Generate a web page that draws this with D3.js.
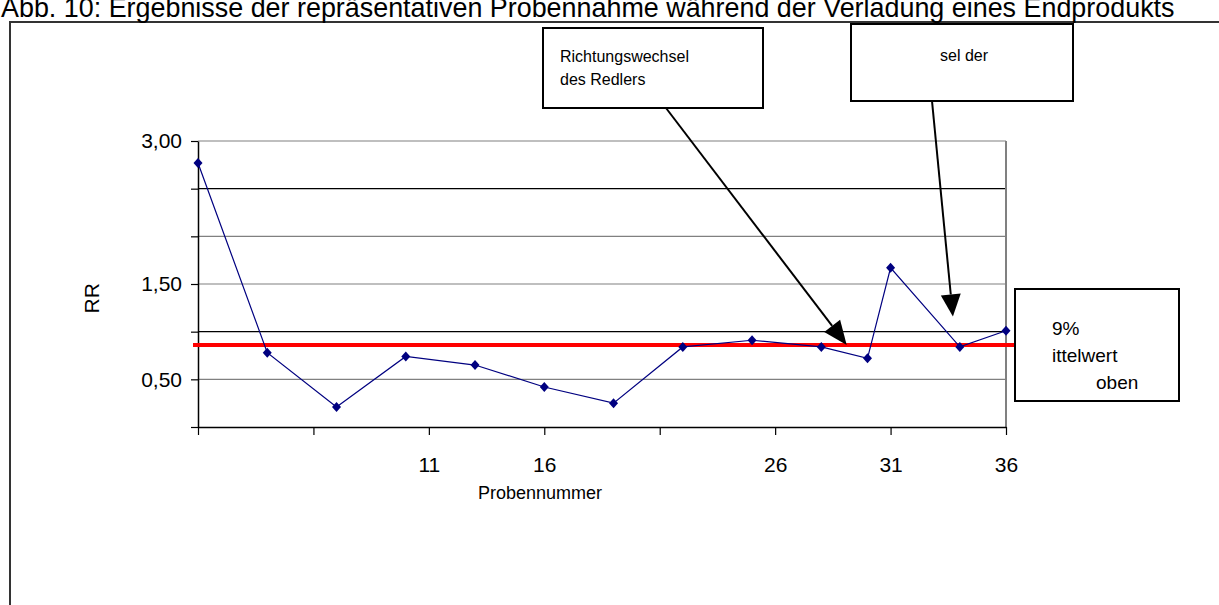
<!DOCTYPE html>
<html>
<head>
<meta charset="utf-8">
<script src="https://cdn.jsdelivr.net/npm/d3@7"></script>
<style>
  html, body { margin: 0; padding: 0; background: #fff; }
  svg { display: block; font-family: "Liberation Sans", Arial, sans-serif; }
</style>
</head>
<body>
<svg id="chart" width="1219" height="605"></svg>
<script>
// ---- data ----
const titleText = "Abb. 10: Ergebnisse der repräsentativen Probennahme während der Verladung eines Endprodukts";
const sampleNumbers = [1, 4, 7, 10, 13, 16, 19, 22, 25, 28, 30, 31, 34, 36];
const rrValues = [2.77, 0.78, 0.21, 0.74, 0.65, 0.42, 0.25, 0.84, 0.91, 0.84, 0.72, 1.67, 0.84, 1.01];
const xTickValues = [1, 6, 11, 16, 21, 26, 31, 36];
const xTickLabels = ["", "", "11", "16", "", "26", "31", "36"];
const yTickValues = [0, 0.5, 1, 1.5, 2, 2.5, 3];
const yTickLabels = ["", "0,50", "", "1,50", "", "", "3,00"];
const meanValue = 0.86;
const xAxisTitle = "Probennummer";
const yAxisTitle = "RR";
const note1Lines = ["Richtungswechsel", "des Redlers"];
const note1Target = [29.1, 0.86];
const note2Lines = ["sel der"];
const note2Target = [33.7, 1.16];
const meanBoxLines = ["9%", "ittelwert", "oben"];

// ---- layout ----
const svg = d3.select("#chart");
const plot = { left: 198, right: 1006, top: 141, bottom: 427 };

const x = d3.scaleLinear().domain([1, 36]).range([plot.left, plot.right]);
const y = d3.scaleLinear().domain([0, 3]).range([plot.bottom, plot.top]);

// outer frame
svg.append("rect").attr("x", 10).attr("y", 22).attr("width", 1230).attr("height", 620)
  .attr("fill", "none").attr("stroke", "#333").attr("stroke-width", 2);

// title (partially cut at the top)
svg.append("text").attr("x", 1).attr("y", 17)
  .attr("font-size", 26.9).attr("fill", "#000").text(titleText);

// gridlines
const gridColor = v => (v === 2.5 || v === 1) ? "#000" : "#808080";
svg.append("g").selectAll("line").data(yTickValues.filter(v => v > 0)).join("line")
  .attr("x1", plot.left).attr("x2", plot.right)
  .attr("y1", d => y(d)).attr("y2", d => y(d))
  .attr("stroke", d => gridColor(d)).attr("stroke-width", 1.2);

// right border of plot area
svg.append("line").attr("x1", plot.right).attr("x2", plot.right)
  .attr("y1", plot.top).attr("y2", plot.bottom)
  .attr("stroke", "#808080").attr("stroke-width", 2);

// y axis
const yAxis = d3.axisLeft(y).tickValues(yTickValues)
  .tickFormat((d, i) => yTickLabels[i]).tickSize(7).tickPadding(9).tickSizeOuter(0);
const gy = svg.append("g").attr("transform", `translate(${plot.left},0)`).call(yAxis);
gy.select(".domain").attr("stroke", "#000").attr("stroke-width", 1.5);
gy.selectAll(".tick line").attr("stroke", "#000").attr("stroke-width", 1.2);
gy.selectAll(".tick text").attr("font-size", 21).attr("fill", "#000")
  .attr("font-family", "'Liberation Sans', Arial, sans-serif");

// x axis
const xAxis = d3.axisBottom(x).tickValues(xTickValues)
  .tickFormat((d, i) => xTickLabels[i]).tickSize(8).tickPadding(22).tickSizeOuter(0);
const gx = svg.append("g").attr("transform", `translate(0,${plot.bottom})`).call(xAxis);
gx.select(".domain").attr("stroke", "#000").attr("stroke-width", 1.5);
gx.selectAll(".tick line").attr("stroke", "#000").attr("stroke-width", 1.2);
gx.selectAll(".tick text").attr("font-size", 21).attr("fill", "#000")
  .attr("font-family", "'Liberation Sans', Arial, sans-serif");

// axis titles
svg.append("text").attr("x", 540).attr("y", 499).attr("text-anchor", "middle")
  .attr("font-size", 18).text(xAxisTitle);
svg.append("text").attr("transform", `translate(99,${y(1.35)}) rotate(-90)`)
  .attr("text-anchor", "middle").attr("font-size", 21).text(yAxisTitle);

// mean (red) line
svg.append("line").attr("x1", x(1) - 5).attr("x2", 1015)
  .attr("y1", y(meanValue)).attr("y2", y(meanValue))
  .attr("stroke", "#ff0000").attr("stroke-width", 4);

// series line
const pts = sampleNumbers.map((s, i) => [s, rrValues[i]]);
svg.append("path").datum(pts)
  .attr("d", d3.line().x(d => x(d[0])).y(d => y(d[1])))
  .attr("fill", "none").attr("stroke", "#000080").attr("stroke-width", 1.2);

// diamond markers
svg.append("g").selectAll("path").data(pts).join("path")
  .attr("transform", d => `translate(${x(d[0])},${y(d[1])})`)
  .attr("d", "M0,-5L4.5,0L0,5L-4.5,0Z")
  .attr("fill", "#000080");

// annotation boxes
function box(x0, y0, w, h) {
  svg.append("rect").attr("x", x0).attr("y", y0).attr("width", w).attr("height", h)
    .attr("fill", "#fff").attr("stroke", "#000").attr("stroke-width", 2);
}
function arrow(x1, y1, x2, y2, headLen, headW) {
  const a = Math.atan2(y2 - y1, x2 - x1);
  const bx = x2 - headLen * Math.cos(a), by = y2 - headLen * Math.sin(a);
  svg.append("line").attr("x1", x1).attr("y1", y1).attr("x2", bx).attr("y2", by)
    .attr("stroke", "#000").attr("stroke-width", 2);
  const px = -Math.sin(a) * headW / 2, py = Math.cos(a) * headW / 2;
  svg.append("path").attr("d", `M${x2},${y2}L${bx + px},${by + py}L${bx - px},${by - py}Z`)
    .attr("fill", "#000");
}

box(543, 28, 220, 80);
svg.append("text").attr("font-size", 16).selectAll("tspan").data(note1Lines).join("tspan")
  .attr("x", 560).attr("y", (d, i) => 62 + i * 23).text(d => d);
arrow(666, 108, x(note1Target[0]), y(note1Target[1]), 24, 20);

box(851, 24, 222, 77);
svg.append("text").attr("font-size", 16).attr("text-anchor", "middle")
  .selectAll("tspan").data(note2Lines).join("tspan")
  .attr("x", 964).attr("y", (d, i) => 61 + i * 23).text(d => d);
arrow(932, 101, x(note2Target[0]), y(note2Target[1]), 22, 20);

box(1015, 289, 164, 112);
svg.append("text").attr("font-size", 19).selectAll("tspan").data(meanBoxLines).join("tspan")
  .attr("x", (d, i) => i === 2 ? 1096 : 1052).attr("y", (d, i) => 335 + i * 27).text(d => d);
</script>
</body>
</html>
